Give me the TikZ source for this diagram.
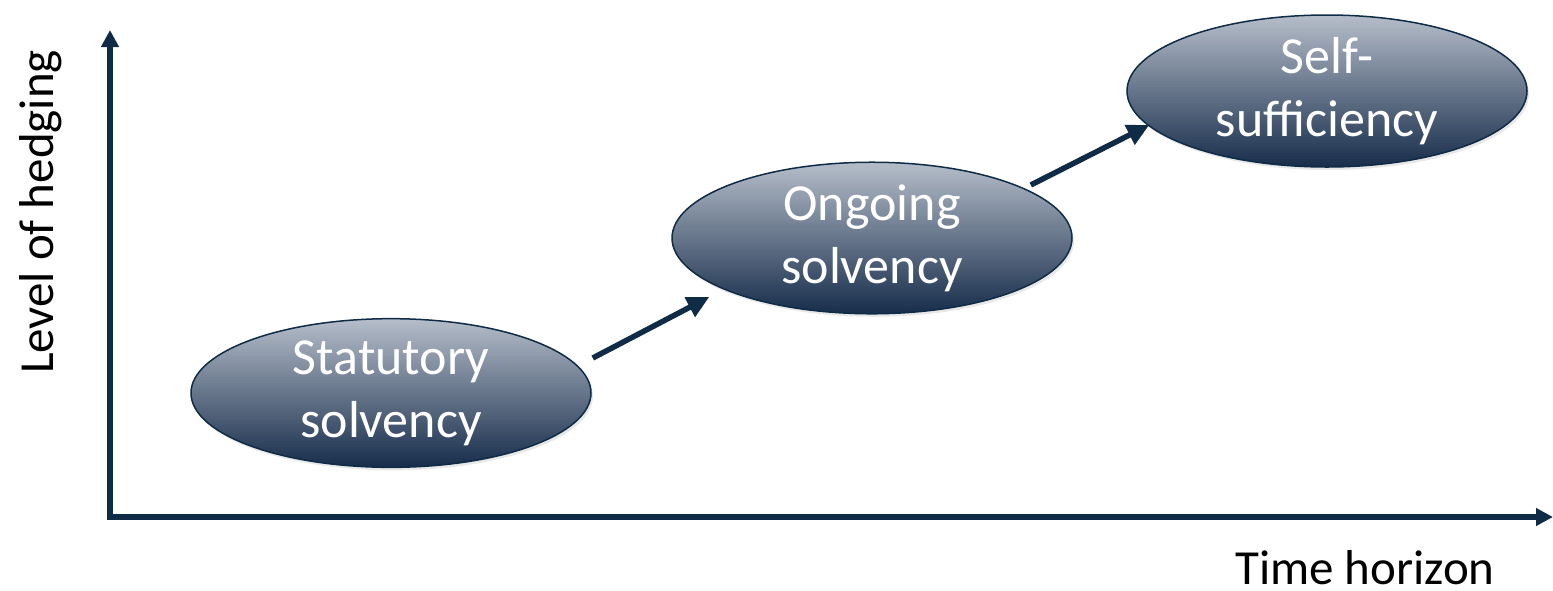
\documentclass[tikz,border=0pt]{standalone}
\usepackage{fontspec}
\setmainfont{Carlito}
\usetikzlibrary{arrows.meta,shapes.geometric,calc,shadows}
\definecolor{navy}{HTML}{0F2B46}
\definecolor{ltop}{HTML}{B5BDC9}
\definecolor{lbot}{HTML}{172D4B}
\begin{document}
\begin{tikzpicture}[x=1pt,y=-1pt,
  axis/.style={line width=5.5pt,navy,line join=miter,{Triangle[length=17pt,width=17pt]}-{Triangle[length=17pt,width=17pt]}},
  link/.style={line width=5.5pt,navy,-{Triangle[length=22pt,width=21pt]}},
  stage/.style={ellipse,draw=navy,line width=1.5pt,top color=ltop,bottom color=lbot,
    minimum width=400pt,minimum height=140pt,inner sep=0pt,text=white,align=center,
    font=\fontsize{52}{63}\selectfont,
    drop shadow={opacity=0.18,shadow xshift=2pt,shadow yshift=-3pt}},
  lab/.style={font=\fontsize{49}{58}\selectfont,text=black,inner sep=0pt,text depth=0pt}]
\useasboundingbox (0,0) rectangle (1553,590);
\coordinate (O) at (110,517);
\coordinate (Ytip) at (110,30);
\coordinate (Xtip) at (1553,517);
\draw[axis] (Ytip) -- (O) -- (Xtip);
\node[stage] (s) at (391,393) {Statutory\\solvency};
\node[stage] (o) at (872,238) {Ongoing\\solvency};
\node[stage] (f) at (1327,91) {Self-\\sufficiency};
\draw[link] ($(s.east)+(1,-35)$) -- ($(o.west)+(38,59)$);
\draw[link] ($(o.east)+(-42,-53)$) -- ($(f.west)+(23,34)$);
\node[lab,rotate=90,anchor=base] (yl) at (53,212) {Level of hedging};
\node[lab,anchor=base] (xl) at (1365,584) {Time horizon};
\end{tikzpicture}
\end{document}
